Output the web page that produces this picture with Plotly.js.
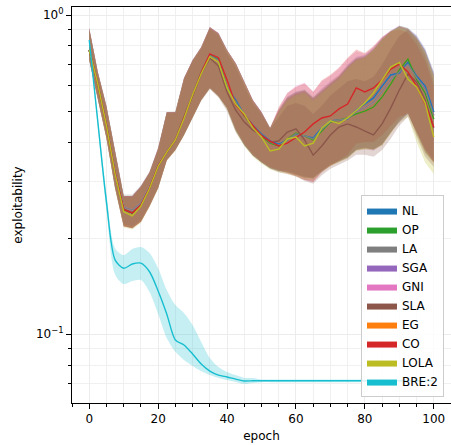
<!DOCTYPE html>
<html>
<head>
<meta charset="utf-8">
<script src="https://cdn.plot.ly/plotly-3.0.1.min.js"></script>
<style>html,body{margin:0;padding:0;background:#fff}#chart{width:451px;height:445px}</style>
</head>
<body>
<div id="chart"></div>
<script>
const epochs = [0,2.5,5,7.5,10,12.5,15,17.5,20,22.5,25,27.5,30,32.5,35,37.5,40,42.5,45,47.5,50,52.5,55,57.5,60,62.5,65,67.5,70,72.5,75,77.5,80,82.5,85,87.5,90,92.5,95,97.5,100];

const seriesNames = ["NL","OP","LA","SGA","GNI","SLA","EG","CO","LOLA","BRE:2"];
const seriesColors = ["#1f77b4","#2ca02c","#7f7f7f","#9467bd","#e377c2","#8c564b","#ff7f0e","#d62728","#bcbd22","#17becf"];

const NL_mean = [0.777,0.608,0.452,0.320,0.246,0.240,0.254,0.287,0.337,0.372,0.406,0.476,0.566,0.661,0.750,0.725,0.591,0.542,0.486,0.452,0.424,0.403,0.394,0.406,0.424,0.418,0.412,0.443,0.466,0.469,0.472,0.504,0.526,0.550,0.599,0.649,0.658,0.712,0.644,0.599,0.497];
const NL_hi = [0.911,0.663,0.519,0.372,0.271,0.271,0.291,0.322,0.383,0.497,0.497,0.635,0.723,0.794,0.917,0.878,0.777,0.707,0.617,0.542,0.497,0.443,0.500,0.550,0.570,0.580,0.550,0.580,0.610,0.640,0.690,0.730,0.740,0.780,0.840,0.890,0.920,0.905,0.860,0.780,0.660];
const NL_lo = [0.723,0.542,0.412,0.287,0.218,0.215,0.225,0.252,0.287,0.351,0.378,0.421,0.476,0.542,0.591,0.558,0.511,0.436,0.392,0.364,0.346,0.332,0.325,0.325,0.318,0.312,0.310,0.325,0.340,0.350,0.360,0.380,0.385,0.380,0.395,0.430,0.462,0.490,0.430,0.380,0.350];

const OP_mean = [0.777,0.608,0.452,0.320,0.246,0.240,0.254,0.287,0.337,0.372,0.406,0.476,0.566,0.661,0.748,0.725,0.591,0.534,0.483,0.449,0.418,0.397,0.389,0.409,0.427,0.418,0.406,0.433,0.462,0.469,0.476,0.490,0.500,0.515,0.553,0.608,0.673,0.728,0.630,0.570,0.472];
const OP_hi = [0.905,0.660,0.516,0.370,0.270,0.270,0.290,0.320,0.380,0.495,0.495,0.632,0.720,0.790,0.912,0.875,0.775,0.705,0.615,0.540,0.495,0.443,0.500,0.545,0.565,0.575,0.545,0.575,0.605,0.640,0.685,0.725,0.735,0.775,0.835,0.885,0.925,0.911,0.853,0.770,0.650];
const OP_lo = [0.725,0.545,0.414,0.289,0.219,0.216,0.226,0.253,0.288,0.352,0.379,0.422,0.478,0.544,0.594,0.560,0.511,0.436,0.392,0.364,0.346,0.332,0.325,0.322,0.316,0.310,0.308,0.325,0.338,0.348,0.358,0.378,0.382,0.380,0.392,0.428,0.470,0.497,0.425,0.370,0.345];

const LA_mean = [0.777,0.610,0.455,0.324,0.250,0.245,0.258,0.290,0.338,0.373,0.407,0.476,0.565,0.660,0.748,0.722,0.591,0.538,0.485,0.450,0.421,0.400,0.391,0.407,0.425,0.418,0.409,0.438,0.464,0.469,0.474,0.497,0.513,0.533,0.576,0.628,0.665,0.700,0.637,0.585,0.485];
const LA_hi = [0.908,0.665,0.521,0.375,0.274,0.274,0.293,0.324,0.384,0.497,0.498,0.634,0.722,0.792,0.914,0.876,0.776,0.706,0.616,0.541,0.496,0.443,0.505,0.555,0.575,0.585,0.555,0.585,0.615,0.645,0.695,0.735,0.745,0.785,0.845,0.890,0.920,0.900,0.850,0.775,0.655];
const LA_lo = [0.722,0.543,0.414,0.290,0.221,0.218,0.228,0.254,0.289,0.352,0.379,0.421,0.476,0.541,0.590,0.556,0.510,0.435,0.391,0.363,0.345,0.331,0.324,0.322,0.316,0.310,0.308,0.324,0.339,0.348,0.358,0.378,0.383,0.378,0.393,0.428,0.465,0.493,0.428,0.375,0.347];

const SGA_mean = [0.777,0.608,0.452,0.320,0.246,0.240,0.254,0.287,0.337,0.372,0.406,0.476,0.566,0.661,0.750,0.725,0.591,0.542,0.486,0.452,0.424,0.403,0.394,0.406,0.424,0.418,0.412,0.443,0.466,0.469,0.472,0.504,0.526,0.550,0.599,0.649,0.658,0.712,0.644,0.599,0.497];
const SGA_hi = [0.910,0.662,0.518,0.371,0.271,0.271,0.291,0.322,0.383,0.497,0.497,0.635,0.723,0.794,0.915,0.878,0.777,0.707,0.617,0.542,0.497,0.443,0.505,0.555,0.575,0.580,0.550,0.590,0.620,0.650,0.700,0.740,0.750,0.790,0.850,0.895,0.925,0.910,0.865,0.785,0.665];
const SGA_lo = [0.723,0.542,0.412,0.287,0.218,0.215,0.225,0.252,0.287,0.351,0.378,0.421,0.476,0.542,0.591,0.558,0.511,0.436,0.392,0.364,0.346,0.332,0.325,0.324,0.318,0.312,0.310,0.326,0.341,0.350,0.360,0.380,0.385,0.380,0.395,0.430,0.462,0.490,0.430,0.380,0.350];

const GNI_mean = [0.777,0.610,0.455,0.324,0.250,0.245,0.258,0.290,0.338,0.373,0.407,0.476,0.565,0.660,0.748,0.722,0.591,0.538,0.485,0.450,0.421,0.400,0.391,0.407,0.425,0.418,0.409,0.438,0.464,0.469,0.474,0.497,0.513,0.533,0.576,0.628,0.665,0.700,0.637,0.585,0.485];
const GNI_hi = [0.911,0.663,0.519,0.372,0.271,0.271,0.291,0.322,0.383,0.497,0.497,0.635,0.723,0.794,0.917,0.878,0.777,0.707,0.617,0.542,0.497,0.443,0.510,0.570,0.600,0.615,0.575,0.620,0.645,0.680,0.730,0.770,0.755,0.795,0.850,0.895,0.925,0.905,0.850,0.770,0.650];
const GNI_lo = [0.723,0.542,0.412,0.287,0.218,0.215,0.225,0.252,0.287,0.351,0.378,0.421,0.476,0.542,0.591,0.558,0.511,0.436,0.392,0.364,0.346,0.332,0.325,0.320,0.313,0.304,0.300,0.322,0.337,0.346,0.357,0.378,0.380,0.376,0.392,0.428,0.465,0.493,0.428,0.372,0.345];

const SLA_mean = [0.777,0.608,0.452,0.320,0.246,0.240,0.254,0.287,0.337,0.372,0.406,0.476,0.563,0.655,0.733,0.692,0.574,0.504,0.462,0.436,0.421,0.400,0.403,0.430,0.440,0.406,0.364,0.389,0.421,0.446,0.456,0.446,0.433,0.421,0.456,0.511,0.582,0.653,0.617,0.542,0.443];
const SLA_hi = [0.905,0.660,0.516,0.370,0.270,0.270,0.290,0.320,0.380,0.494,0.494,0.630,0.718,0.786,0.905,0.865,0.760,0.690,0.600,0.530,0.490,0.440,0.480,0.520,0.530,0.520,0.490,0.520,0.560,0.590,0.620,0.630,0.620,0.640,0.700,0.780,0.860,0.900,0.840,0.750,0.620];
const SLA_lo = [0.720,0.540,0.410,0.286,0.218,0.215,0.225,0.252,0.287,0.350,0.377,0.420,0.474,0.538,0.585,0.552,0.500,0.430,0.390,0.362,0.345,0.330,0.322,0.318,0.312,0.302,0.296,0.315,0.330,0.340,0.350,0.365,0.365,0.360,0.378,0.410,0.450,0.480,0.415,0.360,0.335];

const EG_mean = [0.777,0.608,0.452,0.320,0.246,0.240,0.254,0.287,0.337,0.372,0.406,0.476,0.566,0.661,0.748,0.725,0.591,0.534,0.483,0.449,0.418,0.397,0.389,0.409,0.427,0.418,0.406,0.433,0.462,0.469,0.476,0.490,0.500,0.515,0.553,0.608,0.673,0.728,0.630,0.570,0.472];
const EG_hi = [0.908,0.662,0.518,0.371,0.271,0.271,0.291,0.322,0.382,0.496,0.496,0.634,0.722,0.792,0.915,0.876,0.776,0.706,0.616,0.541,0.496,0.443,0.505,0.550,0.570,0.580,0.550,0.580,0.610,0.645,0.690,0.730,0.740,0.780,0.838,0.888,0.922,0.905,0.850,0.770,0.650];
const EG_lo = [0.723,0.542,0.412,0.287,0.218,0.215,0.225,0.252,0.287,0.351,0.378,0.421,0.476,0.542,0.591,0.558,0.511,0.436,0.392,0.364,0.346,0.332,0.325,0.322,0.316,0.310,0.308,0.325,0.338,0.348,0.358,0.378,0.382,0.380,0.392,0.428,0.468,0.495,0.425,0.372,0.345];

const CO_mean = [0.777,0.608,0.452,0.320,0.246,0.240,0.254,0.287,0.337,0.372,0.406,0.476,0.566,0.661,0.755,0.735,0.626,0.523,0.486,0.452,0.418,0.403,0.389,0.397,0.412,0.430,0.456,0.476,0.483,0.508,0.526,0.591,0.574,0.591,0.626,0.677,0.702,0.663,0.599,0.526,0.446];
const CO_hi = [0.911,0.663,0.519,0.372,0.271,0.271,0.291,0.322,0.383,0.497,0.497,0.635,0.723,0.794,0.917,0.878,0.777,0.707,0.617,0.542,0.497,0.443,0.515,0.570,0.595,0.610,0.575,0.625,0.650,0.685,0.735,0.780,0.760,0.800,0.855,0.890,0.900,0.880,0.810,0.720,0.600];
const CO_lo = [0.723,0.542,0.412,0.287,0.218,0.215,0.225,0.252,0.287,0.351,0.378,0.421,0.476,0.542,0.591,0.558,0.511,0.440,0.395,0.366,0.348,0.334,0.327,0.320,0.313,0.304,0.300,0.322,0.337,0.350,0.365,0.395,0.400,0.400,0.420,0.450,0.480,0.490,0.430,0.380,0.345];

const LOLA_mean = [0.777,0.608,0.450,0.318,0.242,0.235,0.252,0.286,0.336,0.372,0.406,0.474,0.563,0.655,0.740,0.712,0.591,0.526,0.490,0.443,0.415,0.375,0.380,0.409,0.415,0.389,0.397,0.443,0.466,0.457,0.476,0.504,0.530,0.570,0.626,0.687,0.710,0.630,0.595,0.530,0.415];
const LOLA_hi = [0.900,0.658,0.514,0.368,0.268,0.268,0.288,0.320,0.380,0.494,0.494,0.630,0.718,0.788,0.905,0.868,0.770,0.700,0.610,0.535,0.490,0.440,0.495,0.540,0.560,0.570,0.540,0.570,0.600,0.630,0.680,0.720,0.735,0.780,0.840,0.890,0.915,0.895,0.840,0.760,0.640];
const LOLA_lo = [0.720,0.540,0.410,0.285,0.216,0.213,0.223,0.250,0.285,0.349,0.376,0.419,0.474,0.540,0.588,0.555,0.505,0.430,0.388,0.360,0.342,0.328,0.322,0.318,0.312,0.305,0.304,0.322,0.336,0.345,0.355,0.375,0.380,0.378,0.390,0.425,0.460,0.480,0.400,0.345,0.318];

const BRE_mean = [0.835,0.462,0.260,0.171,0.161,0.166,0.167,0.157,0.1367,0.1158,0.0960,0.0926,0.0868,0.0807,0.0767,0.0745,0.0735,0.0724,0.0714,0.0715,0.0715,0.0715,0.0715,0.0715,0.0715,0.0715,0.0715,0.0715,0.0715,0.0715,0.0715,0.0715,0.0715,0.0715,0.0715,0.0715,0.0715,0.0715,0.0715,0.0715,0.0715];
const BRE_hi = [0.847,0.479,0.275,0.186,0.177,0.185,0.1876,0.1797,0.161,0.1376,0.1235,0.1166,0.1069,0.0946,0.0843,0.0790,0.0762,0.0745,0.0730,0.0730,0.0722,0.0722,0.0722,0.0722,0.0722,0.0722,0.0722,0.0722,0.0722,0.0722,0.0722,0.0722,0.0722,0.0722,0.0722,0.0722,0.0722,0.0722,0.0722,0.0722,0.0722];
const BRE_lo = [0.823,0.446,0.245,0.154,0.1437,0.1468,0.148,0.1357,0.1158,0.0974,0.0881,0.0831,0.0796,0.0767,0.0745,0.0730,0.0719,0.0709,0.0699,0.0704,0.0708,0.0708,0.0708,0.0708,0.0708,0.0708,0.0708,0.0708,0.0708,0.0708,0.0708,0.0708,0.0708,0.0708,0.0708,0.0708,0.0708,0.0708,0.0708,0.0708,0.0708];

const yTickVals = [0.1, 1];
const yTickText = ["10<sup>\u22121</sup>", "10<sup>0</sup>"];
const yMinorVals = [0.07,0.08,0.09,0.2,0.3,0.4,0.5,0.6,0.7,0.8,0.9];
const xTickVals = [0,20,40,60,80,100];

const means = [NL_mean,OP_mean,LA_mean,SGA_mean,GNI_mean,SLA_mean,EG_mean,CO_mean,LOLA_mean,BRE_mean];
const his = [NL_hi,OP_hi,LA_hi,SGA_hi,GNI_hi,SLA_hi,EG_hi,CO_hi,LOLA_hi,BRE_hi];
const los = [NL_lo,OP_lo,LA_lo,SGA_lo,GNI_lo,SLA_lo,EG_lo,CO_lo,LOLA_lo,BRE_lo];

function rgba(hex, a) {
  const r = parseInt(hex.slice(1,3),16), g = parseInt(hex.slice(3,5),16), b = parseInt(hex.slice(5,7),16);
  return `rgba(${r},${g},${b},${a})`;
}

const data = [];
const BAND_ALPHA = 0.25;
// bands (drawing order)
const bandOrder = [0,1,3,4,6,7,8,2,5,9];
for (const i of bandOrder) {
  const shape = i === 9 ? 'spline' : 'linear';
  data.push({x: epochs, y: los[i], type:'scatter', mode:'lines', line:{width:0, shape:shape, smoothing:0.8}, showlegend:false, hoverinfo:'skip'});
  data.push({x: epochs, y: his[i], type:'scatter', mode:'lines', fill:'tonexty', fillcolor: rgba(seriesColors[i], BAND_ALPHA), line:{width:0, shape:shape, smoothing:0.8}, showlegend:false, hoverinfo:'skip'});
}
// lines (hidden duplicates first)
const lineOrder = [3,4,6,0,1,2,5,7,8,9];
for (const i of lineOrder) {
  const shape = i === 9 ? 'spline' : 'linear';
  data.push({x: epochs, y: means[i], type:'scatter', mode:'lines', line:{color: seriesColors[i], width:1.4, shape:shape, smoothing:0.8}, showlegend:false, hoverinfo:'skip'});
}
// legend swatches
for (let i = 0; i < seriesNames.length; i++) {
  data.push({x:[null], y:[null], type:'scatter', mode:'lines', fill:'toself', fillcolor: seriesColors[i], line:{width:0, color: seriesColors[i]}, name: seriesNames[i], showlegend:true});
}

const font = {family:'DejaVu Sans, sans-serif', size:12, color:'#000'};
const layout = {
  width: 451, height: 445,
  margin: {l:72, r:0, t:7, b:42},
  paper_bgcolor:'#fff', plot_bgcolor:'#fff',
  font: font,
  showlegend: true,
  legend: {x:0.9815, y:0.015, xanchor:'right', yanchor:'bottom', traceorder:'normal', bgcolor:'rgba(255,255,255,0.85)', bordercolor:'#cccccc', borderwidth:1, font:font, tracegroupgap:0},
  xaxis: {
    range:[-5,105], tickmode:'array', tickvals:xTickVals, ticks:'outside', ticklen:5, tickwidth:1, tickcolor:'#000',
    showline:true, linecolor:'#000', linewidth:1, mirror:true, zeroline:false,
    showgrid:true, gridcolor:'#ececec', gridwidth:1,
    minor:{dtick:5, ticks:'outside', ticklen:3, tickcolor:'#000', showgrid:true, gridcolor:'#f0f0f0'},
    title:{text:'epoch', font:font, standoff:6}, tickfont:font
  },
  yaxis: {
    type:'log', range:[-1.2152, 0.0251], tickmode:'array', tickvals:yTickVals, ticktext:yTickText,
    ticks:'outside', ticklen:5, tickwidth:1, tickcolor:'#000',
    showline:true, linecolor:'#000', linewidth:1, mirror:true, zeroline:false,
    showgrid:true, gridcolor:'#ececec', gridwidth:1,
    minor:{tickmode:'array', tickvals:yMinorVals, ticks:'outside', ticklen:3, tickcolor:'#000', showgrid:true, gridcolor:'#f0f0f0'},
    title:{text:'exploitability', font:font, standoff:10}, tickfont:font
  }
};
Plotly.newPlot('chart', data, layout, {staticPlot:true, displayModeBar:false});
</script>
</body>
</html>
